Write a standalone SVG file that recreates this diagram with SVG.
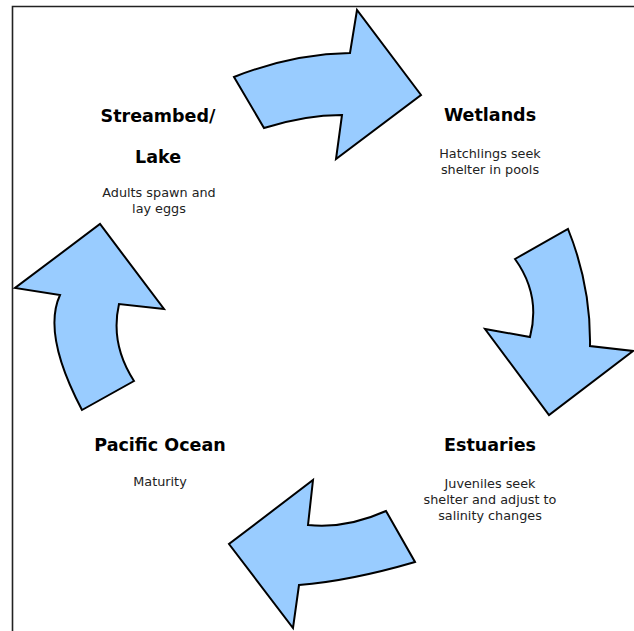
<svg xmlns="http://www.w3.org/2000/svg" width="634" height="631" viewBox="0 0 634 631">
<style>
.arrow{fill:#99ccff;stroke:#000;stroke-width:2;stroke-linejoin:miter}
.h{font-family:"DejaVu Sans",Verdana,sans-serif;font-weight:bold;font-size:17.5px;fill:#000;text-anchor:middle}
.b{font-family:"DejaVu Sans",Verdana,sans-serif;font-size:12.8px;fill:#222;text-anchor:middle}
</style>
<rect width="634" height="631" fill="#fff"/>
<path d="M12.5,631 V6.5 H634" fill="none" stroke="#222" stroke-width="1.6"/>
<g id="connectors">
<path class="arrow" d="M234,77 Q292,54 350,53 L357,10 L421,95 L336,159 L342,115 Q305,115 264,128 Z"/>
<path class="arrow" d="M515,259 L568,229 Q591,286 590,346 L633,351 L549,415 L485,329 L530,337 Q541,295 515,259 Z"/>
<path class="arrow" d="M386,511 L415,562 Q350,581 299,585 L293,628 L229,544 L313,480 L308,525 Q346,529 386,511 Z"/>
<path class="arrow" d="M82,410 Q42,334 60,295 L15,288 L100,224 L164,309 L119,304 Q110,344 134,381 Z"/>
</g>
<g id="streambed">
<text class="h" x="158" y="122">Streambed/</text>
<text class="h" x="158" y="163">Lake</text>
<text class="b" x="159" y="197">Adults spawn and</text>
<text class="b" x="159" y="213">lay eggs</text>
</g>
<g id="wetlands">
<text class="h" x="490" y="121">Wetlands</text>
<text class="b" x="490" y="158">Hatchlings seek</text>
<text class="b" x="490" y="174">shelter in pools</text>
</g>
<g id="estuaries">
<text class="h" x="490" y="451">Estuaries</text>
<text class="b" x="490" y="488">Juveniles seek</text>
<text class="b" x="490" y="504">shelter and adjust to</text>
<text class="b" x="490" y="520">salinity changes</text>
</g>
<g id="pacific">
<text class="h" x="160" y="451">Pacific Ocean</text>
<text class="b" x="160" y="486">Maturity</text>
</g>
</svg>
